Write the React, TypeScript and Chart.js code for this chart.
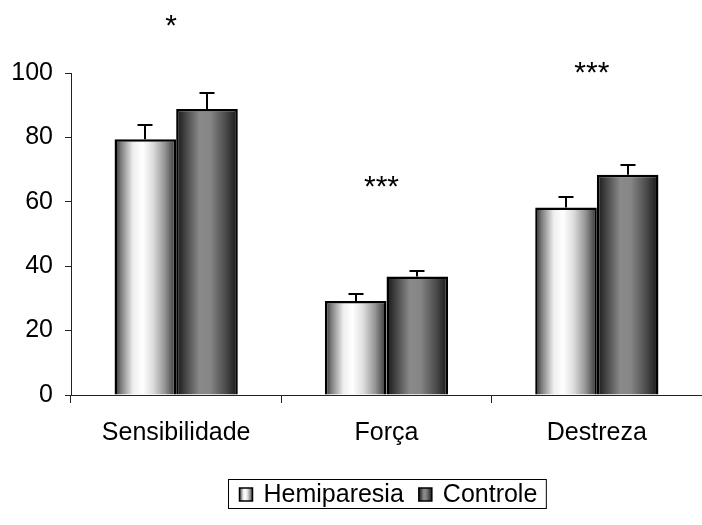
import React, { useEffect, useRef } from "react";
import { Chart, registerables } from "chart.js";
Chart.register(...registerables);

const categories = ["Sensibilidade", "Força", "Destreza"];
const seriesNames = ["Hemiparesia", "Controle"];
const hemiparesia = [79.4, 29.2, 58.2];
const controle = [88.8, 36.8, 68.4];
const hemiparesiaErr = [4.6, 2.1, 3.3];
const controleErr = [5.1, 1.7, 3.1];
const significance = ["*", "***", "***"];
const significanceY = [115.6, 65.7, 101];

const FONT = "'Liberation Sans', Arial, sans-serif";
const FONT_SIZE = 25;
const CAT_PCT = 0.586;

type Stop = [number, string];
const hemiStops: Stop[] = [
  [0, "#262626"], [0.1, "#7a7a7a"], [0.3, "#eeeeee"], [0.45, "#ffffff"],
  [0.62, "#dedede"], [0.82, "#939393"], [1, "#333333"],
];
const ctrlStops: Stop[] = [
  [0, "#161616"], [0.15, "#444444"], [0.38, "#8a8a8a"], [0.55, "#868686"],
  [0.8, "#4c4c4c"], [1, "#161616"],
];
const allStops = [hemiStops, ctrlStops];
const allErrs = [hemiparesiaErr, controleErr];

function makeGrad(ctx: CanvasRenderingContext2D, x0: number, x1: number, stops: Stop[]) {
  const g = ctx.createLinearGradient(x0, 0, x1, 0);
  stops.forEach(([o, c]) => g.addColorStop(o, c));
  return g;
}

function barFill(di: number) {
  return (c: any) => {
    const chart = c.chart;
    const xs = chart.scales && chart.scales.x;
    if (!xs || c.type !== "data" || !xs.width) return di === 0 ? "#dddddd" : "#777777";
    const n = chart.data.labels.length;
    const gw = (xs.width / n) * CAT_PCT;
    const center = xs.getPixelForValue(c.dataIndex);
    const left = di === 0 ? center - gw / 2 : center;
    return makeGrad(chart.ctx, left, left + gw / 2, allStops[di]);
  };
}

const extrasPlugin = {
  id: "extras",
  afterDatasetsDraw(chart: any) {
    const ctx = chart.ctx as CanvasRenderingContext2D;
    const ys = chart.scales.y;
    const xs = chart.scales.x;
    ctx.save();
    ctx.strokeStyle = "#000";
    ctx.lineWidth = 2;
    allErrs.forEach((errs, di) => {
      const meta = chart.getDatasetMeta(di);
      meta.data.forEach((bar: any, i: number) => {
        const v = chart.data.datasets[di].data[i];
        const yTop = Math.round(ys.getPixelForValue(v + errs[i]));
        const bx = Math.round(bar.x);
        ctx.beginPath();
        ctx.moveTo(bx, bar.y);
        ctx.lineTo(bx, yTop);
        ctx.moveTo(bx - 7.5, yTop);
        ctx.lineTo(bx + 7.5, yTop);
        ctx.stroke();
      });
    });
    // significance marks
    ctx.fillStyle = "#000";
    ctx.font = `30px ${FONT}`;
    ctx.textAlign = "center";
    ctx.textBaseline = "middle";
    significance.forEach((s, i) => {
      ctx.fillText(s, xs.getPixelForValue(i) - 5, ys.getPixelForValue(significanceY[i]) + 4);
    });
    ctx.restore();
  },
  afterDraw(chart: any) {
    const ctx = chart.ctx as CanvasRenderingContext2D;
    const area = chart.chartArea;
    ctx.save();
    ctx.font = `${FONT_SIZE}px ${FONT}`;
    const padL = 11, sq = 13, gapIcon = 11, gapItem = 15, padR = 9;
    const widths = seriesNames.map((s) => ctx.measureText(s).width);
    const total = padL + widths.reduce((a, w) => a + sq + gapIcon + w, 0) + gapItem * (seriesNames.length - 1) + padR;
    const cx = (area.left + area.right) / 2;
    const top = 479, h = 29;
    const left = Math.round(cx - total / 2) + 0.5;
    ctx.fillStyle = "#fff";
    ctx.fillRect(left, top + 0.5, total, h);
    ctx.strokeStyle = "#000";
    ctx.lineWidth = 1;
    ctx.strokeRect(left, top + 0.5, total, h);
    let x = left + padL;
    const midY = top + h / 2 + 0.5;
    seriesNames.forEach((s, i) => {
      const sy = Math.round(midY - sq / 2);
      ctx.fillStyle = makeGrad(ctx, x, x + sq, allStops[i]);
      ctx.fillRect(x, sy, sq, sq);
      ctx.strokeStyle = "#000";
      ctx.lineWidth = 1.5;
      ctx.strokeRect(x, sy, sq, sq);
      x += sq + gapIcon;
      ctx.fillStyle = "#000";
      ctx.textAlign = "left";
      ctx.textBaseline = "middle";
      ctx.fillText(s, x, midY + 1);
      x += widths[i] + gapItem;
    });
    ctx.restore();
  },
};

export default function App() {
  const ref = useRef<HTMLCanvasElement>(null);
  useEffect(() => {
    if (!ref.current) return;
    const chart = new Chart(ref.current, {
      type: "bar",
      data: {
        labels: categories,
        datasets: [
          {
            label: seriesNames[0],
            data: hemiparesia,
            backgroundColor: barFill(0),
            borderColor: "#000",
            borderWidth: 2.5,
            categoryPercentage: CAT_PCT,
            barPercentage: 1,
          },
          {
            label: seriesNames[1],
            data: controle,
            backgroundColor: barFill(1),
            borderColor: "#000",
            borderWidth: 2.5,
            categoryPercentage: CAT_PCT,
            barPercentage: 1,
          },
        ],
      },
      options: {
        responsive: false,
        animation: false,
        layout: { padding: { top: 73, left: 0, right: 0, bottom: 0 } },
        plugins: { legend: { display: false }, tooltip: { enabled: false } },
        scales: {
          x: {
            afterFit: (s: any) => { s.height = 130; },
            grid: { display: true, drawOnChartArea: false, drawTicks: true, tickLength: 8, color: "#222", offset: true },
            border: { display: true, color: "#222", width: 1 },
            ticks: { color: "#000", font: { family: FONT, size: FONT_SIZE }, padding: 15 },
          },
          y: {
            min: 0,
            max: 100,
            afterFit: (s: any) => { s.width = 71; },
            grid: { display: true, drawOnChartArea: false, drawTicks: true, tickLength: 6, color: "#222" },
            border: { display: true, color: "#222", width: 1 },
            ticks: { stepSize: 20, color: "#000", font: { family: FONT, size: FONT_SIZE }, padding: 12 },
          },
        },
      },
      plugins: [extrasPlugin],
    });
    return () => chart.destroy();
  }, []);
  return (
    <div style={{ position: "fixed", left: 0, top: 0, width: 702, height: 525, overflow: "hidden", background: "#fff" }}>
      <canvas ref={ref} width={702} height={525} />
    </div>
  );
}
